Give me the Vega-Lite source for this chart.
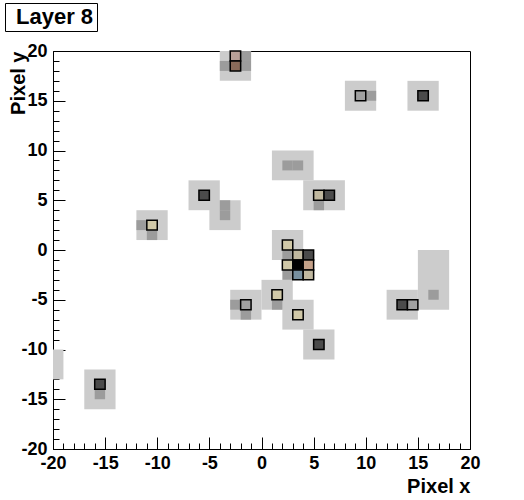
{
  "$schema": "https://vega.github.io/schema/vega-lite/v6.json",
  "width": 417,
  "height": 398,
  "autosize": {"type": "none"},
  "padding": {"left": 53, "top": 51, "right": 54, "bottom": 51},
  "background": "white",
  "config": {"view": {"stroke": "black", "strokeWidth": 1}, "font": "Liberation Sans"},
  "datasets": {
    "halo": [
      {"x1": -4, "x2": -1, "y1": 17, "y2": 20},
      {"x1": 1, "x2": 5, "y1": 7, "y2": 10},
      {"x1": -7, "x2": -4, "y1": 4, "y2": 7},
      {"x1": -5, "x2": -2, "y1": 2, "y2": 5},
      {"x1": 4, "x2": 8, "y1": 4, "y2": 7},
      {"x1": 1, "x2": 4, "y1": -1, "y2": 2},
      {"x1": 0, "x2": 3, "y1": -6, "y2": -3},
      {"x1": -3, "x2": 0, "y1": -7, "y2": -4},
      {"x1": 2, "x2": 5, "y1": -8, "y2": -5},
      {"x1": 4, "x2": 7, "y1": -11, "y2": -8},
      {"x1": 8, "x2": 11, "y1": 14, "y2": 17},
      {"x1": 14, "x2": 17, "y1": 14, "y2": 17},
      {"x1": 15, "x2": 18, "y1": -6, "y2": 0},
      {"x1": 12, "x2": 15, "y1": -7, "y2": -4},
      {"x1": -12, "x2": -9, "y1": 1, "y2": 4},
      {"x1": -20, "x2": -19, "y1": -13, "y2": -10},
      {"x1": -17, "x2": -14, "y1": -16, "y2": -12}
    ],
    "cells": [
      {"x1": -4, "x2": -3, "y1": 18, "y2": 19, "c": "mid"},
      {"x1": -2, "x2": -1, "y1": 18, "y2": 19, "c": "mid"},
      {"x1": -2, "x2": -1, "y1": 19, "y2": 20, "c": "mid"},
      {"x1": 2, "x2": 3, "y1": 8, "y2": 9, "c": "mid"},
      {"x1": 3, "x2": 4, "y1": 8, "y2": 9, "c": "mid"},
      {"x1": -4, "x2": -3, "y1": 3, "y2": 4, "c": "mid"},
      {"x1": -4, "x2": -3, "y1": 4, "y2": 5, "c": "mid"},
      {"x1": 5, "x2": 6, "y1": 4, "y2": 5, "c": "mid"},
      {"x1": 2, "x2": 3, "y1": -1, "y2": 0, "c": "mid"},
      {"x1": 2, "x2": 3, "y1": -3, "y2": -2, "c": "mid"},
      {"x1": 1, "x2": 2, "y1": -6, "y2": -5, "c": "mid"},
      {"x1": -3, "x2": -2, "y1": -6, "y2": -5, "c": "mid"},
      {"x1": -2, "x2": -1, "y1": -7, "y2": -6, "c": "mid"},
      {"x1": 10, "x2": 11, "y1": 15, "y2": 16, "c": "mid"},
      {"x1": 16, "x2": 17, "y1": -5, "y2": -4, "c": "mid"},
      {"x1": -12, "x2": -11, "y1": 2, "y2": 3, "c": "mid"},
      {"x1": -11, "x2": -10, "y1": 1, "y2": 2, "c": "mid"},
      {"x1": -16, "x2": -15, "y1": -15, "y2": -14, "c": "mid"},
      {"x1": -3, "x2": -2, "y1": 19, "y2": 20, "c": "brownL"},
      {"x1": -3, "x2": -2, "y1": 18, "y2": 19, "c": "brownD"},
      {"x1": -6, "x2": -5, "y1": 5, "y2": 6, "c": "dark"},
      {"x1": 5, "x2": 6, "y1": 5, "y2": 6, "c": "tan"},
      {"x1": 6, "x2": 7, "y1": 5, "y2": 6, "c": "dark"},
      {"x1": 2, "x2": 3, "y1": 0, "y2": 1, "c": "beige"},
      {"x1": 3, "x2": 4, "y1": -1, "y2": 0, "c": "tan"},
      {"x1": 4, "x2": 5, "y1": -1, "y2": 0, "c": "dark"},
      {"x1": 2, "x2": 3, "y1": -2, "y2": -1, "c": "beige"},
      {"x1": 3, "x2": 4, "y1": -2, "y2": -1, "c": "black"},
      {"x1": 4, "x2": 5, "y1": -2, "y2": -1, "c": "orange"},
      {"x1": 3, "x2": 4, "y1": -3, "y2": -2, "c": "blue"},
      {"x1": 4, "x2": 5, "y1": -3, "y2": -2, "c": "tan"},
      {"x1": 1, "x2": 2, "y1": -5, "y2": -4, "c": "beige"},
      {"x1": -2, "x2": -1, "y1": -6, "y2": -5, "c": "grey"},
      {"x1": 3, "x2": 4, "y1": -7, "y2": -6, "c": "beige"},
      {"x1": 5, "x2": 6, "y1": -10, "y2": -9, "c": "dark"},
      {"x1": 9, "x2": 10, "y1": 15, "y2": 16, "c": "grey"},
      {"x1": 15, "x2": 16, "y1": 15, "y2": 16, "c": "dark"},
      {"x1": 13, "x2": 14, "y1": -6, "y2": -5, "c": "dark"},
      {"x1": 14, "x2": 15, "y1": -6, "y2": -5, "c": "grey"},
      {"x1": -11, "x2": -10, "y1": 2, "y2": 3, "c": "beige"},
      {"x1": -16, "x2": -15, "y1": -14, "y2": -13, "c": "dark"}
    ]
  },
  "layer": [
    {
      "data": {"name": "halo"},
      "mark": {"type": "rect"},
      "encoding": {
        "x": {
          "field": "x1", "type": "quantitative",
          "scale": {"domain": [-20, 20], "nice": false, "zero": false},
          "axis": {
            "orient": "bottom",
            "title": "Pixel x",
            "values": [-20, -15, -10, -5, 0, 5, 10, 15, 20],
            "labelExpr": "'' + datum.value",
            "tickSize": -12,
            "tickColor": "black", "domainColor": "black", "grid": false,
            "labelFont": "Liberation Sans", "labelFontWeight": "bold", "labelFontSize": 18, "labelColor": "black",
            "labelPadding": 17, "labelOverlap": false, "labelFlush": false, "labelBound": false,
            "titleFont": "Liberation Sans", "titleFontWeight": "bold", "titleFontSize": 20, "titleColor": "black",
            "titleAlign": "right", "titleAnchor": "end", "titleX": 417, "titleY": 43, "titleBaseline": "alphabetic"
          }
        },
        "x2": {"field": "x2"},
        "y": {
          "field": "y1", "type": "quantitative",
          "scale": {"domain": [-20, 20], "nice": false, "zero": false},
          "axis": {
            "orient": "left",
            "title": "Pixel y",
            "values": [-20, -15, -10, -5, 0, 5, 10, 15, 20],
            "labelExpr": "'' + datum.value",
            "tickSize": -12,
            "tickColor": "black", "domainColor": "black", "grid": false,
            "labelFont": "Liberation Sans", "labelFontWeight": "bold", "labelFontSize": 18, "labelColor": "black",
            "labelPadding": 18, "labelOverlap": false, "labelFlush": false, "labelBound": false,
            "titleFont": "Liberation Sans", "titleFontWeight": "bold", "titleFontSize": 20, "titleColor": "black",
            "titleAngle": 270, "titleAlign": "right", "titleAnchor": "end", "titleX": -29, "titleY": 0, "titleBaseline": "alphabetic"
          }
        },
        "y2": {"field": "y2"},
        "fill": {
          "datum": "Layer 8", "type": "nominal",
          "scale": {"range": ["#cccccc"]},
          "legend": {
            "orient": "none", "legendX": -48, "legendY": -48, "title": null,
            "strokeColor": "black", "fillColor": "white", "padding": 3,
            "symbolSize": 0.01, "symbolOpacity": 0, "symbolStrokeWidth": 0, "symbolFillColor": "transparent", "labelOffset": -14,
            "labelFont": "Liberation Sans", "labelFontWeight": "bold", "labelFontSize": 22, "labelColor": "black",
            "labelExpr": "'Layer 8\u00a0'", "labelLimit": 300
          }
        }
      }
    },
    {
      "data": {"name": "cells"},
      "mark": {"type": "rect", "strokeWidth": 1.5},
      "encoding": {
        "x": {
          "field": "x1", "type": "quantitative",
          "scale": {"domain": [-20, 20], "nice": false, "zero": false},
          "axis": {
            "orient": "bottom", "title": null, "labels": false, "domain": false, "grid": false,
            "values": [-19,-18,-17,-16,-14,-13,-12,-11,-9,-8,-7,-6,-4,-3,-2,-1,1,2,3,4,6,7,8,9,11,12,13,14,16,17,18,19],
            "tickSize": -6, "tickColor": "black"
          }
        },
        "x2": {"field": "x2"},
        "y": {
          "field": "y1", "type": "quantitative",
          "scale": {"domain": [-20, 20], "nice": false, "zero": false},
          "axis": {
            "orient": "left", "title": null, "labels": false, "domain": false, "grid": false,
            "values": [-19,-18,-17,-16,-14,-13,-12,-11,-9,-8,-7,-6,-4,-3,-2,-1,1,2,3,4,6,7,8,9,11,12,13,14,16,17,18,19],
            "tickSize": -6, "tickColor": "black"
          }
        },
        "y2": {"field": "y2"},
        "fill": {
          "field": "c", "type": "nominal",
          "scale": {
            "domain": ["mid", "grey", "dark", "beige", "tan", "orange", "blue", "black", "brownL", "brownD"],
            "range": ["#9c9c9c", "#a0a0a0", "#4b4b4b", "#d0c8a8", "#c0b8a0", "#c4a088", "#7890a0", "#000000", "#b8a098", "#8b6b5a"]
          },
          "legend": null
        },
        "stroke": {"condition": {"test": "datum.c !== 'mid'", "value": "black"}, "value": null}
      }
    }
  ],
  "resolve": {"scale": {"fill": "independent"}, "axis": {"x": "independent", "y": "independent"}}
}
